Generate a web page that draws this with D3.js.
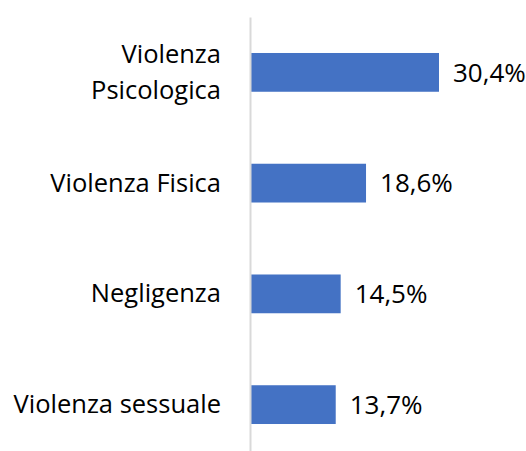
<!DOCTYPE html>
<html>
<head>
<meta charset="utf-8">
<script src="https://cdn.jsdelivr.net/npm/d3@7"></script>
<style>
    body { margin: 0; background: #fff; }
    text { font-family: "Open Sans", "Noto Sans", sans-serif; fill: #000; }
</style>
</head>
<body>
<div id="graph1"></div>
<script>
// Data
const categories = ["Violenza Psicologica", "Violenza Fisica", "Negligenza", "Violenza sessuale"];
const values = [30.4, 18.6, 14.5, 13.7];

const width = 526, height = 451;
const axisX = 250;        // x of the vertical category axis
const labelRight = 221;   // right edge of category labels
const wrapWidth = 230;    // labels wider than this get wrapped

let svg = d3.select("#graph1")
    .append("svg")
    .attr("width", width)
    .attr("height", height);

// Linear scale for the bar length
let x = d3.scaleLinear()
    .domain([0, d3.max(values)])
    .range([0, 188]);

// Band scale for the categories
let y = d3.scaleBand()
    .domain(categories)
    .range([17, 460])
    .paddingInner(0.65)
    .paddingOuter(0.325);

// Bars
svg.selectAll("rect")
    .data(values)
    .enter()
    .append("rect")
    .attr("x", axisX + 1)
    .attr("y", (d, i) => y(categories[i]))
    .attr("width", d => x(d))
    .attr("height", y.bandwidth())
    .style("fill", "#4472C4");

// Vertical axis line only (no ticks, no labels)
let axis = svg.append("g")
    .attr("transform", `translate(${axisX}, 0)`)
    .call(d3.axisLeft(y).tickSize(0).tickFormat(""));
axis.select(".domain")
    .attr("stroke", "#D9D9D9")
    .attr("stroke-width", 2);

// Value labels
svg.selectAll(".value")
    .data(values)
    .enter()
    .append("text")
    .attr("class", "value")
    .attr("x", d => axisX + 1 + x(d) + 14)
    .attr("y", (d, i) => y(categories[i]) + y.bandwidth() / 2)
    .attr("dy", "0.36em")
    .style("font-size", "26px")
    .text(d => d.toFixed(1).replace(".", ",") + "%");

// Category labels, word-wrapped like the original
let labels = svg.selectAll(".cat")
    .data(categories)
    .enter()
    .append("text")
    .attr("class", "cat")
    .attr("text-anchor", "end")
    .style("font-size", "25.5px");

labels.each(function (c) {
    let t = d3.select(this);
    let words = c.split(" ");
    let lines = [];
    let line = [];
    let probe = t.append("tspan");
    words.forEach(w => {
        let attempt = line.concat([w]).join(" ");
        probe.text(attempt);
        if (probe.node().getComputedTextLength() > wrapWidth && line.length > 0) {
            lines.push(line.join(" "));
            line = [w];
        } else {
            line.push(w);
        }
    });
    lines.push(line.join(" "));
    probe.remove();

    let cy = y(c) + y.bandwidth() / 2;
    let lh = 36;
    lines.forEach((l, i) => {
        t.append("tspan")
            .attr("x", labelRight)
            .attr("y", cy + 8.5 + (i - (lines.length - 1) / 2) * lh)
            .text(l);
    });
});
</script>
</body>
</html>
